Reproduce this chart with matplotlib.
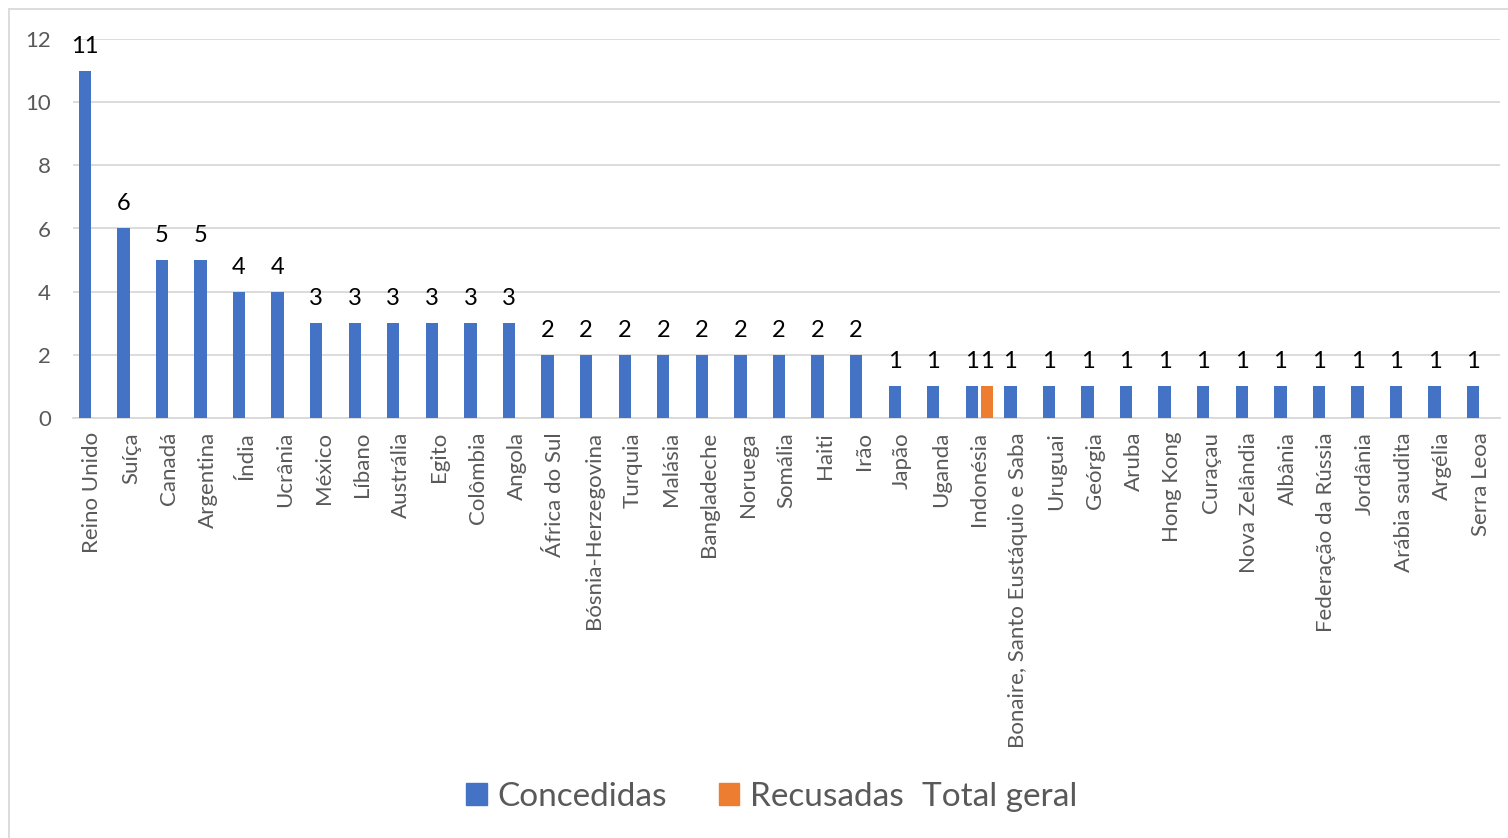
import numpy as np
import matplotlib
matplotlib.use("Agg")
import matplotlib.pyplot as plt
from matplotlib.patches import Rectangle, Patch

plt.rcParams["font.family"] = ["Lato", "DejaVu Sans"]

countries = [
    "Reino Unido", "Suíça", "Canadá", "Argentina", "Índia", "Ucrânia",
    "México", "Líbano", "Austrália", "Egito", "Colômbia", "Angola",
    "África do Sul", "Bósnia-Herzegovina", "Turquia", "Malásia",
    "Bangladeche", "Noruega", "Somália", "Haiti", "Irão", "Japão",
    "Uganda", "Indonésia", "Bonaire, Santo Eustáquio e Saba", "Uruguai",
    "Geórgia", "Aruba", "Hong Kong", "Curaçau", "Nova Zelândia", "Albânia",
    "Federação da Rússia", "Jordânia", "Arábia saudita", "Argélia",
    "Serra Leoa",
]
concedidas = [11, 6, 5, 5, 4, 4, 3, 3, 3, 3, 3, 3,
              2, 2, 2, 2, 2, 2, 2, 2, 2,
              1, 1, 1, 1, 1, 1, 1, 1, 1, 1, 1, 1, 1, 1, 1, 1]
# only Indonésia has a refused entry; the rest are blank in the pivot
recusadas = [None] * 23 + [1] + [None] * 13

BLUE = "#4472C4"
ORANGE = "#ED7D31"
GRAY = "#595959"
GRID = "#D9D9D9"
W, H = 1508, 838


def add_labels(ax, xs, vals):
    for x, v in zip(xs, vals):
        if v is None:
            continue
        ax.annotate(f"{v}", (x, v), xytext=(0, 13), textcoords="offset points",
                    ha="center", va="baseline", fontsize=17, color="black")


def main():
    fig = plt.figure(figsize=(W / 100, H / 100), dpi=100)
    ax = fig.add_axes([73 / W, 1 - 418 / H, (1500 - 73) / W, (418 - 39) / H])

    x = np.arange(len(countries))
    off = 0.195
    width = 0.32
    ax.bar(x - off, concedidas, width, color=BLUE, zorder=3)
    rec_x = [xi + off for xi, v in zip(x, recusadas) if v is not None]
    rec_v = [v for v in recusadas if v is not None]
    ax.bar(rec_x, rec_v, width, color=ORANGE, zorder=3)

    add_labels(ax, x - off, concedidas)
    add_labels(ax, rec_x, rec_v)

    ax.set_xlim(-0.5, len(countries) - 0.5)
    ax.set_ylim(0, 12)
    ax.set_yticks(range(0, 13, 2))
    ax.yaxis.grid(True, color=GRID, linewidth=1.3, zorder=0)
    ax.set_axisbelow(True)
    for s in ["top", "right", "left"]:
        ax.spines[s].set_visible(False)
    ax.spines["bottom"].set_color(GRID)
    ax.spines["bottom"].set_linewidth(1.3)

    ax.set_xticks(x)
    ax.set_xticklabels(countries, rotation=90, fontsize=16, color=GRAY)
    ax.tick_params(axis="x", length=0, pad=10)
    ax.tick_params(axis="y", length=0, pad=16, labelsize=16, labelcolor=GRAY)

    legend_y = 1 - 797 / H
    handles = [Patch(color=BLUE), Patch(color=ORANGE)]
    leg = fig.legend(handles, ["Concedidas", "Recusadas"], loc="center left",
                     bbox_to_anchor=(466 / W, legend_y), ncol=2, frameon=False,
                     fontsize=24, handlelength=0.62, handleheight=0.62,
                     handletextpad=0.32, columnspacing=1.55, labelcolor=GRAY)

    # shift legend so the first square starts where it does in the original
    fig.canvas.draw()
    x0 = leg.legend_handles[0].get_window_extent().x0
    leg.set_bbox_to_anchor((466 / W - (x0 - 466) / W, legend_y),
                           transform=fig.transFigure)
    fig.canvas.draw()

    # "Total geral" has no marker in the original legend; put it right after
    bb = leg.get_texts()[1].get_window_extent()
    fig.text((bb.x1 + 18) / W, legend_y, "Total geral",
             fontsize=24, color=GRAY, va="center", ha="left")

    fig.patches.append(Rectangle((9 / W, -0.01), 1.0, 1 - 9 / H + 0.01,
                                 transform=fig.transFigure, fill=False,
                                 edgecolor=GRID, linewidth=1.3))

    fig.savefig("out.png", dpi=100)


if __name__ == "__main__":
    main()
